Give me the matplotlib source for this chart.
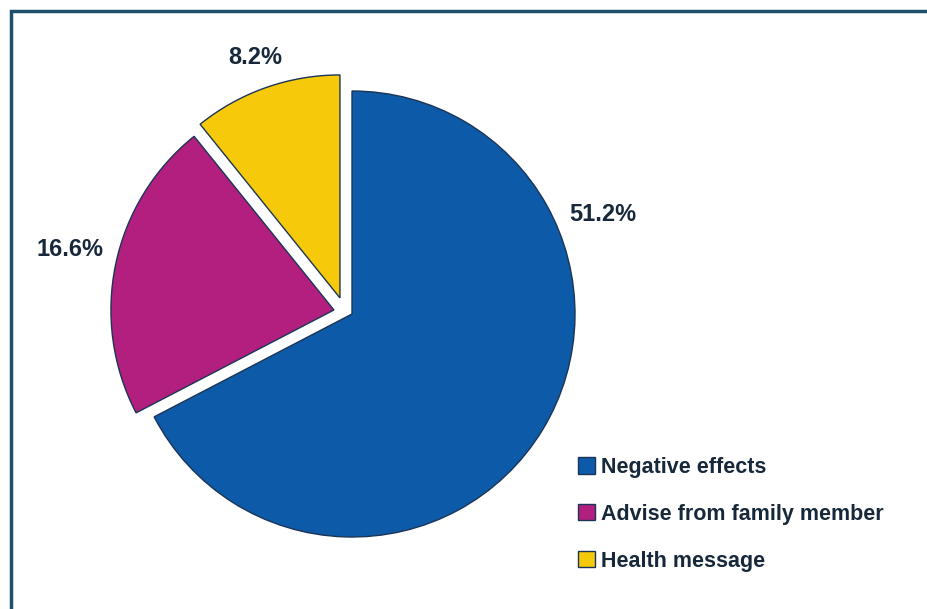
import matplotlib
matplotlib.use("Agg")
import matplotlib.pyplot as plt
from matplotlib.patches import Rectangle

# ── data ──────────────────────────────────────────────────────────────────────
CATEGORIES = ["Negative effects", "Advise from family member", "Health message"]
PERCENTS   = [51.2, 16.6, 8.2]
COLORS     = ["#0d5aa8", "#b31f7f", "#f6c90a"]
# wedge displacement (pie-radius units), x / y
OFFSETS    = [(0.0, 0.0), (-0.081, 0.018), (-0.054, 0.072)]

TEXT_COLOR  = "#16283a"
EDGE_COLOR  = "#1b3556"
FRAME_COLOR = "#1e4f6b"

plt.rcParams["font.family"] = ["Liberation Sans Narrow", "Liberation Sans", "DejaVu Sans"]
plt.rcParams["font.weight"] = "bold"

W, H = 927, 609
fig = plt.figure(figsize=(W / 100, H / 100), dpi=100)
fig.patch.set_facecolor("white")

# outer frame (only top and left edges fall inside the image)
fig.patches.append(Rectangle((11 / W, -0.2), 1.5, 1.2 - 11 / H,
                             transform=fig.transFigure, fill=False,
                             edgecolor=FRAME_COLOR, linewidth=2.5))

# pie axes: centre at (352, 314) px, radius 223 px
cx, cy, r = 352, H - 314, 223
half = 1.5 * r
ax = fig.add_axes([(cx - half) / W, (cy - half) / H, 2 * half / W, 2 * half / H])
ax.axis("off")

wedges, _ = ax.pie(
    PERCENTS, colors=COLORS,
    startangle=90, counterclock=False, radius=1.0,
    wedgeprops=dict(edgecolor=EDGE_COLOR, linewidth=1.0),
)
for w, off in zip(wedges, OFFSETS):
    w.set_center(off)
ax.set_xlim(-1.5, 1.5)
ax.set_ylim(-1.5, 1.5)

label_pos = [(1.125, 0.445), (-1.265, 0.29), (-0.435, 1.15)]
for pct, (x, y) in zip(PERCENTS, label_pos):
    ax.text(x, y, f"{pct}%", ha="center", va="center",
            fontsize=17, fontweight="bold", color=TEXT_COLOR)

leg = fig.legend(
    wedges, CATEGORIES, loc="upper left",
    bbox_to_anchor=(578 / W, (H - 457) / H),
    frameon=False, fontsize=15.5, borderpad=0, borderaxespad=0,
    handlelength=0.78, handleheight=0.78, handletextpad=0.3,
    labelspacing=1.2,
)
for t in leg.get_texts():
    t.set_color(TEXT_COLOR)
    t.set_fontweight("bold")

fig.savefig("out.png", dpi=100)
